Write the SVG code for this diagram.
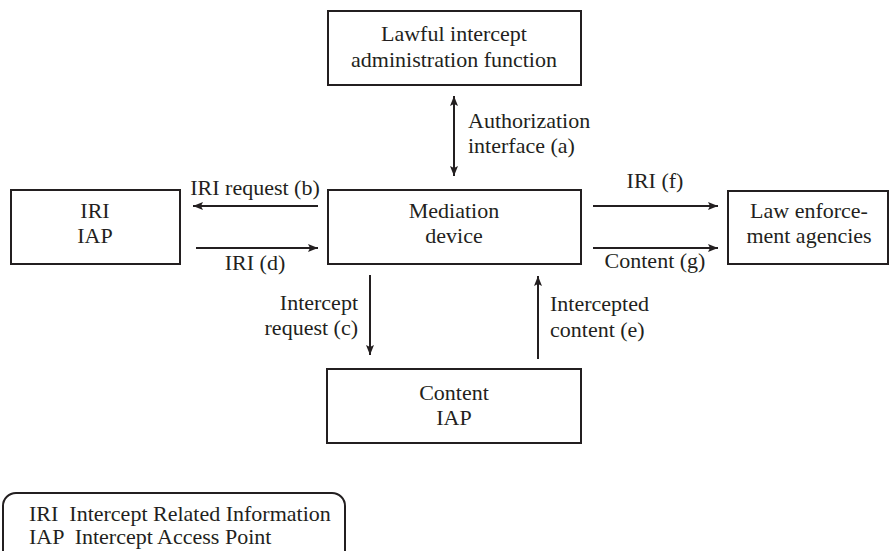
<svg xmlns="http://www.w3.org/2000/svg" width="891" height="551" viewBox="0 0 891 551">
<style>
.box{fill:#fff;stroke:#231f20;stroke-width:2}
.t{font-family:"Liberation Serif","Times New Roman",serif;font-size:22px;fill:#231f20}
.c{text-anchor:middle}
.e{text-anchor:end}
.ln{stroke:#231f20;stroke-width:2;fill:none}
</style>
<defs>
<marker id="ah" markerUnits="userSpaceOnUse" markerWidth="12" markerHeight="10" refX="10" refY="5" orient="auto-start-reverse">
<path d="M0,1 L10,5 L0,9 L2,5 Z" fill="#231f20"/>
</marker>
</defs>
<rect width="891" height="551" fill="#fff"/>
<g id="admin">
<rect class="box" x="328" y="11" width="253" height="74"/>
<text class="t c" x="454" y="41">Lawful intercept</text>
<text class="t c" x="454" y="67">administration function</text>
</g>
<g id="mediation">
<rect class="box" x="328" y="190" width="253" height="74"/>
<text class="t c" x="454" y="218">Mediation</text>
<text class="t c" x="454" y="243">device</text>
</g>
<g id="iri-iap">
<rect class="box" x="11" y="190" width="169" height="74"/>
<text class="t c" x="95" y="218">IRI</text>
<text class="t c" x="95" y="243">IAP</text>
</g>
<g id="lea">
<rect class="box" x="728" y="191" width="160" height="73"/>
<text class="t c" x="809" y="218">Law enforce-</text>
<text class="t c" x="809" y="243">ment agencies</text>
</g>
<g id="content-iap">
<rect class="box" x="327" y="369" width="254" height="74"/>
<text class="t c" x="454" y="400">Content</text>
<text class="t c" x="454" y="425">IAP</text>
</g>
<g id="legend">
<rect class="box" x="3" y="493" width="342" height="90" rx="13" ry="13"/>
<text class="t" x="29" y="521" xml:space="preserve">IRI  Intercept Related Information</text>
<text class="t" x="29" y="544" xml:space="preserve">IAP  Intercept Access Point</text>
</g>
<g id="connectors">
<line class="ln" x1="454" y1="96" x2="454" y2="176" marker-start="url(#ah)" marker-end="url(#ah)"/>
<line class="ln" x1="318" y1="206" x2="193" y2="206" marker-end="url(#ah)"/>
<line class="ln" x1="196" y1="248" x2="318" y2="248" marker-end="url(#ah)"/>
<line class="ln" x1="593" y1="206" x2="718" y2="206" marker-end="url(#ah)"/>
<line class="ln" x1="593" y1="248" x2="718" y2="248" marker-end="url(#ah)"/>
<line class="ln" x1="370" y1="275" x2="370" y2="355" marker-end="url(#ah)"/>
<line class="ln" x1="538" y1="359" x2="538" y2="276" marker-end="url(#ah)"/>
<text class="t" x="468" y="128">Authorization</text>
<text class="t" x="468" y="153">interface (a)</text>
<text class="t c" x="255" y="195">IRI request (b)</text>
<text class="t c" x="255" y="270">IRI (d)</text>
<text class="t c" x="655" y="188">IRI (f)</text>
<text class="t c" x="655" y="268">Content (g)</text>
<text class="t e" x="358" y="310">Intercept</text>
<text class="t e" x="358" y="335">request (c)</text>
<text class="t" x="550" y="311">Intercepted</text>
<text class="t" x="550" y="337">content (e)</text>
</g>
</svg>
